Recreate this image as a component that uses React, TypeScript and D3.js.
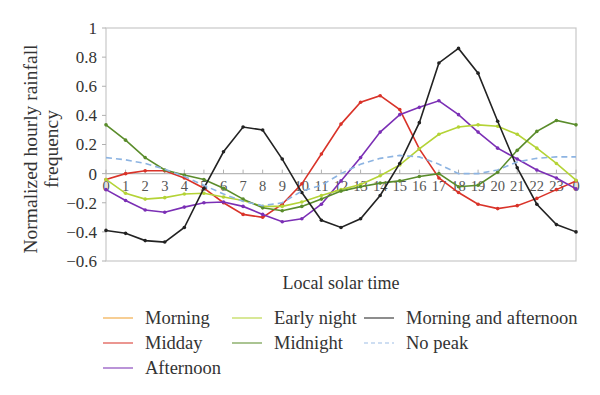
import React from 'react';
import * as d3 from 'd3';

// hours 0..24 (24 is shown again as "0")
const hours = d3.range(25);
const hourLabels = hours.map((h) => String(h % 24));
const yTicks = [1, 0.8, 0.6, 0.4, 0.2, 0, -0.2, -0.4, -0.6];

const morning: number[] = [];
const midday = [-0.04, 0.0, 0.02, 0.02, -0.03, -0.1, -0.2, -0.28, -0.3, -0.21, -0.07, 0.135, 0.34, 0.49, 0.535, 0.44, 0.17, -0.03, -0.13, -0.21, -0.24, -0.22, -0.17, -0.11, -0.05];
const afternoon = [-0.11, -0.185, -0.25, -0.265, -0.23, -0.2, -0.195, -0.225, -0.28, -0.33, -0.31, -0.21, -0.05, 0.11, 0.285, 0.405, 0.455, 0.5, 0.405, 0.285, 0.175, 0.1, 0.025, -0.03, -0.105];
const earlyNight = [-0.04, -0.135, -0.175, -0.165, -0.14, -0.135, -0.16, -0.185, -0.225, -0.225, -0.195, -0.15, -0.11, -0.075, -0.015, 0.06, 0.17, 0.27, 0.32, 0.335, 0.325, 0.27, 0.175, 0.07, -0.045];
const midnight = [0.335, 0.23, 0.11, 0.025, -0.01, -0.04, -0.1, -0.175, -0.235, -0.255, -0.225, -0.175, -0.12, -0.09, -0.065, -0.05, -0.02, 0.0, -0.09, -0.08, 0.01, 0.16, 0.29, 0.365, 0.335];
const morningAfternoon = [-0.39, -0.41, -0.46, -0.47, -0.37, -0.1, 0.15, 0.32, 0.3, 0.1, -0.13, -0.32, -0.37, -0.31, -0.15, 0.07, 0.35, 0.76, 0.86, 0.69, 0.36, 0.04, -0.21, -0.35, -0.4];
const noPeak = [0.11, 0.095, 0.07, 0.03, -0.02, -0.08, -0.14, -0.19, -0.22, -0.2, -0.12, -0.08, 0.0, 0.065, 0.105, 0.125, 0.115, 0.065, 0.0, 0.0, 0.025, 0.08, 0.105, 0.115, 0.115];

const series = [
  { name: 'Morning', values: morning, color: '#f0a030', dash: false },
  { name: 'Midday', values: midday, color: '#d93329', dash: false },
  { name: 'Afternoon', values: afternoon, color: '#7b2fb5', dash: false },
  { name: 'Early night', values: earlyNight, color: '#b4d336', dash: false },
  { name: 'Midnight', values: midnight, color: '#5a8c2b', dash: false },
  { name: 'Morning and afternoon', values: morningAfternoon, color: '#222222', dash: false },
  { name: 'No peak', values: noPeak, color: '#8db4e2', dash: true },
];

// legend order follows the reference (column by column)
const legendPos = [
  [0, 0], [0, 1], [0, 2],
  [1, 0], [1, 1],
  [2, 0], [2, 1],
];
const legendColX = [103, 232, 364];
const legendRowY = [318, 343, 368];

const font = '"Liberation Serif", "DejaVu Serif", serif';

export default function App() {
  const left = 106, right = 576, top = 28, bottom = 261;
  const x = d3.scaleLinear().domain([0, 24]).range([left, right]);
  const y = d3.scaleLinear().domain([-0.6, 1]).range([bottom, top]);
  const line = d3.line<number>().x((d, i) => x(i)).y((d) => y(d));

  return (
    <svg width={600} height={395} style={{ position: 'absolute', left: 0, top: 0, background: '#fff' }} fontFamily={font}>
      {/* plot frame */}
      <rect x={left} y={top} width={right - left} height={bottom - top} fill="none" stroke="#c8c8c8" strokeWidth={1.2} />

      {/* y ticks */}
      {yTicks.map((t) => (
        <g key={t}>
          <line x1={left - 4} x2={left} y1={y(t)} y2={y(t)} stroke="#b0b0b0" />
          <text x={left - 9} y={y(t)} dy="0.35em" textAnchor="end" fontSize={17} fill="#333">
            {t < 0 ? '\u2212' + String(Math.abs(t)) : String(t)}
          </text>
        </g>
      ))}

      {/* zero axis with hour ticks */}
      <line x1={left} x2={right} y1={y(0)} y2={y(0)} stroke="#b8b8b8" strokeWidth={1.2} />
      {hours.map((h) => (
        <line key={'t' + h} x1={x(h)} x2={x(h)} y1={y(0)} y2={y(0) - 4} stroke="#b0b0b0" />
      ))}
      {hours.map((h) => (
        <text key={'l' + h} x={x(h)} y={y(0) + 17} textAnchor="middle" fontSize={14.5} fill="#555">
          {hourLabels[h]}
        </text>
      ))}

      {/* series */}
      {series.filter((s) => s.values.length).map((s) => (
        <g key={s.name}>
          <path d={line(s.values) || ''} fill="none" stroke={s.color} strokeWidth={1.6}
            strokeDasharray={s.dash ? '6,4' : undefined} />
          {!s.dash && s.values.map((v, i) => (
            <circle key={i} cx={x(i)} cy={y(v)} r={1.8} fill={s.color} />
          ))}
        </g>
      ))}

      {/* axis titles */}
      <text transform="translate(37,149) rotate(-90)" textAnchor="middle" fontSize={19.5} fill="#333">
        Normalized hourly rainfall
      </text>
      <text transform="translate(58,149) rotate(-90)" textAnchor="middle" fontSize={19.5} fill="#333">
        frequency
      </text>
      <text x={341} y={289} textAnchor="middle" fontSize={18} fill="#333">Local solar time</text>

      {/* legend */}
      {series.map((s, i) => {
        const [c, r] = legendPos[i];
        const lx = legendColX[c];
        const ly = legendRowY[r];
        return (
          <g key={'lg' + s.name}>
            <line x1={lx} x2={lx + 30} y1={ly} y2={ly} stroke={s.color} strokeWidth={1.2}
              strokeDasharray={s.dash ? '4,3' : undefined} opacity={0.85} />
            <text x={lx + 42} y={ly} dy="0.35em" fontSize={18.5} fill="#333">{s.name}</text>
          </g>
        );
      })}
    </svg>
  );
}
